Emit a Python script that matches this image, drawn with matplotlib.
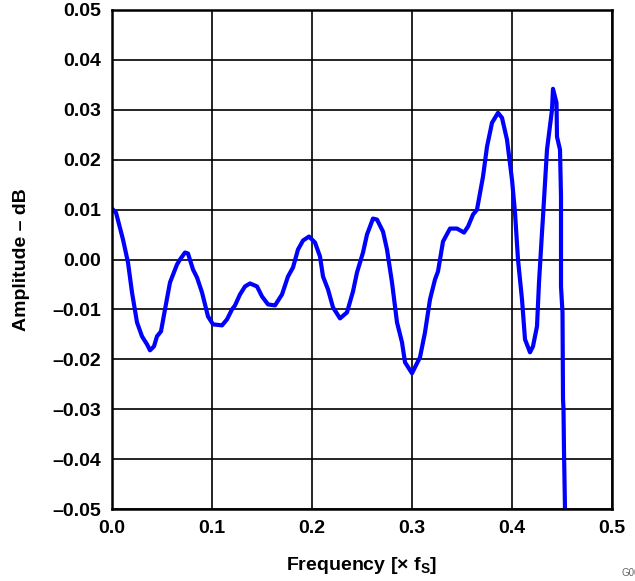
import matplotlib
matplotlib.use("Agg")
import matplotlib.pyplot as plt
from matplotlib.ticker import FixedLocator, FixedFormatter

plt.rcParams['font.family'] = ['Liberation Sans', 'DejaVu Sans']

freq = [0.000, 0.004, 0.011, 0.016, 0.020, 0.025, 0.030, 0.035, 0.038, 0.042,
        0.045, 0.049, 0.053, 0.058, 0.065, 0.068, 0.073, 0.076, 0.081, 0.085,
        0.090, 0.096, 0.101, 0.110, 0.115, 0.120, 0.123, 0.128, 0.133, 0.138,
        0.145, 0.150, 0.156, 0.163, 0.170, 0.176, 0.181, 0.186, 0.191, 0.197,
        0.203, 0.208, 0.211, 0.216, 0.221, 0.228, 0.235, 0.241, 0.245, 0.251,
        0.255, 0.261, 0.265, 0.271, 0.275, 0.280, 0.285, 0.290, 0.293, 0.300,
        0.308, 0.313, 0.318, 0.323, 0.326, 0.331, 0.338, 0.345, 0.352, 0.356,
        0.361, 0.365, 0.371, 0.375, 0.380, 0.386, 0.390, 0.395, 0.400, 0.403,
        0.406, 0.410, 0.413, 0.418, 0.421, 0.425, 0.427, 0.430, 0.431, 0.435,
        0.440, 0.441, 0.4445, 0.445, 0.448, 0.449, 0.449, 0.4505, 0.451, 0.4515,
        0.452, 0.453]
amp = [0.0102, 0.0094, 0.0040, -0.0006, -0.0066, -0.0126, -0.0154, -0.0170, -0.0182, -0.0174,
       -0.0154, -0.0144, -0.0100, -0.0046, -0.0010, 0.0000, 0.0014, 0.0012, -0.0020, -0.0036,
       -0.0066, -0.0114, -0.0130, -0.0132, -0.0120, -0.0100, -0.0092, -0.0070, -0.0054, -0.0048,
       -0.0054, -0.0074, -0.0090, -0.0092, -0.0070, -0.0034, -0.0016, 0.0020, 0.0038, 0.0046,
       0.0034, 0.0006, -0.0034, -0.0060, -0.0096, -0.0118, -0.0106, -0.0064, -0.0026, 0.0014,
       0.0050, 0.0082, 0.0080, 0.0056, 0.0020, -0.0046, -0.0126, -0.0166, -0.0206, -0.0228,
       -0.0196, -0.0146, -0.0080, -0.0040, -0.0024, 0.0036, 0.0062, 0.0062, 0.0054, 0.0066,
       0.0090, 0.0100, 0.0166, 0.0226, 0.0274, 0.0294, 0.0284, 0.0240, 0.0160, 0.0094,
       0.0000, -0.0080, -0.0160, -0.0186, -0.0174, -0.0134, -0.0046, 0.0054, 0.0086, 0.0220,
       0.0300, 0.0342, 0.0314, 0.0246, 0.0220, 0.0126, -0.0054, -0.0106, -0.0280, -0.0300,
       -0.0384, -0.0500]

xticks = [0.0, 0.1, 0.2, 0.3, 0.4, 0.5]
xticklabels = ['0.0', '0.1', '0.2', '0.3', '0.4', '0.5']
yticks = [-0.05, -0.04, -0.03, -0.02, -0.01, 0.0, 0.01, 0.02, 0.03, 0.04, 0.05]
yticklabels = ['\u20130.05', '\u20130.04', '\u20130.03', '\u20130.02', '\u20130.01', '0.00',
               '0.01', '0.02', '0.03', '0.04', '0.05']

fig = plt.figure(figsize=(6.35, 5.81), dpi=100)
ax = fig.add_axes([112/635, 1 - 509/581, 500/635, 499/581])

ax.plot(freq, amp, color='#0000ff', lw=3.0, solid_joinstyle='round', zorder=3)

ax.set_xlim(0, 0.5)
ax.set_ylim(-0.05, 0.05)
ax.xaxis.set_major_locator(FixedLocator(xticks))
ax.xaxis.set_major_formatter(FixedFormatter(xticklabels))
ax.yaxis.set_major_locator(FixedLocator(yticks))
ax.yaxis.set_major_formatter(FixedFormatter(yticklabels))
ax.tick_params(length=0, pad=8, labelsize=14)
for lab in ax.get_xticklabels() + ax.get_yticklabels():
    lab.set_fontweight('bold')

ax.grid(True, color='black', lw=1.2)
for s in ax.spines.values():
    s.set_linewidth(1.8)
    s.set_color('black')
    s.set_zorder(4)

ax.set_xlabel(r'Frequency [$\mathregular{\times}$ f$_\mathregular{S}$]', fontsize=14,
              fontweight='bold', labelpad=13)
ax.set_ylabel('Amplitude \u2013 dB', fontsize=14, fontweight='bold', labelpad=16)

fig.text(622/635, 1 - 568/581, 'G001', fontsize=7, color='#666666', ha='left', va='top')

fig.savefig('out.png', dpi=100)
